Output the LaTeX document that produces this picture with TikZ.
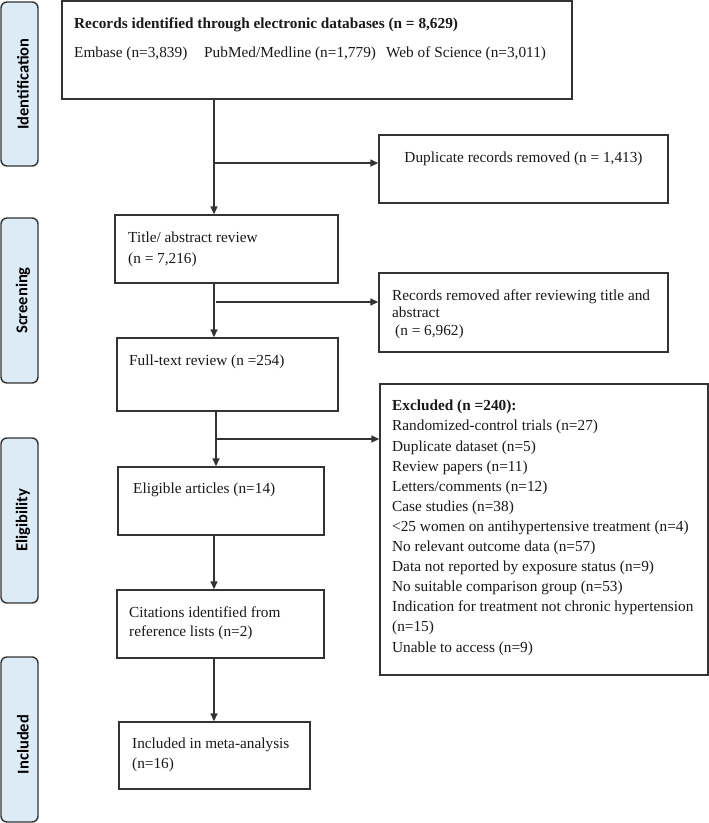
\documentclass[tikz,border=0pt]{standalone}
\usepackage{fontspec}
\setmainfont{Liberation Serif}
\newfontfamily\labfont{Carlito}
\usetikzlibrary{arrows.meta}
\definecolor{edge}{HTML}{333333}
\definecolor{labfill}{HTML}{DDEBF7}
\tikzset{
  box/.style={draw=edge, line width=1.4pt, fill=white, inner sep=0pt},
  stage/.style={draw=edge, line width=1.4pt, fill=labfill, rounded corners=6pt, inner sep=0pt},
  stagetext/.style={rotate=90, font=\labfont\bfseries\fontsize{16.5}{18}\selectfont, text=black},
  txt/.style={anchor=base west, align=left, inner sep=0pt, font=\fontsize{15.3}{20.1}\selectfont, text=black!90},
  arr/.style={draw=edge, line width=1.4pt, -{Triangle[length=8pt,width=7pt]}},
  ln/.style={draw=edge, line width=1.4pt}
}
\begin{document}
\begin{tikzpicture}[x=1pt,y=-1pt]
\useasboundingbox (0,0) rectangle (709,823);
% stage labels
\node[stage, minimum width=37pt, minimum height=164pt] (sid) at (19.5,84) {};
\node[stagetext] (sidt) at ([xshift=3.5pt]sid.center) {Identification};
\node[stage, minimum width=37pt, minimum height=165pt] (ssc) at (19.5,300.5) {};
\node[stagetext] (ssct) at ([xshift=3.5pt]ssc.center) {Screening};
\node[stage, minimum width=37pt, minimum height=165pt] (sel) at (19.5,520.5) {};
\node[stagetext] (selt) at ([xshift=3.5pt]sel.center) {Eligibility};
\node[stage, minimum width=37pt, minimum height=165pt] (sin) at (19.5,739.5) {};
\node[stagetext] (sint) at ([xshift=3.5pt,yshift=-5pt]sin.center) {Included};
% boxes
\node[box, minimum width=510pt, minimum height=98pt] (rec) at (317,50) {};
\node[box, minimum width=289pt, minimum height=68pt] (dup) at (523.5,169) {};
\node[box, minimum width=223pt, minimum height=68pt] (title) at (226.5,249) {};
\node[box, minimum width=289pt, minimum height=79pt] (rr) at (523.5,312.5) {};
\node[box, minimum width=221pt, minimum height=73pt] (full) at (227.5,374.5) {};
\node[box, minimum width=328pt, minimum height=291pt] (excl) at (544,529.5) {};
\node[box, minimum width=206pt, minimum height=68pt] (elig) at (221,501) {};
\node[box, minimum width=207pt, minimum height=68pt] (cit) at (220.5,624) {};
\node[box, minimum width=191pt, minimum height=67pt] (incl) at (214.5,755.5) {};
% texts (base anchor = last line baseline)
\node[txt] (rect1) at (74,28) {\textbf{Records identified through electronic databases (n = 8,629)}};
\node[txt] (rect2) at (74,57) {\makebox[130pt][l]{Embase (n=3,839)}\makebox[182pt][l]{PubMed/Medline (n=1,779)}Web of Science (n=3,011)};
\node[txt, anchor=base] (dupt) at (523.5,162) {Duplicate records removed (n = 1,413)};
\node[txt, font=\fontsize{15.3}{21}\selectfont] (titlet) at (128,263) {Title/ abstract review\\(n = 7,216)};
\node[txt, font=\fontsize{15.3}{17.5}\selectfont] (rrt) at (392,335) {Records removed after reviewing title and\\abstract\\\hspace*{3pt}(n = 6,962)};
\node[txt] (fullt) at (129,365) {Full-text review (n =254)};
\node[txt] (exclt) at (392,652) {\textbf{Excluded (n =240):}\\Randomized-control trials (n=27)\\Duplicate dataset (n=5)\\Review papers (n=11)\\Letters/comments (n=12)\\Case studies (n=38)\\<25 women on antihypertensive treatment (n=4)\\No relevant outcome data (n=57)\\Data not reported by exposure status (n=9)\\No suitable comparison group (n=53)\\Indication for treatment not chronic hypertension\\(n=15)\\Unable to access (n=9)};
\node[txt] (eligt) at (133,493) {Eligible articles (n=14)};
\node[txt, font=\fontsize{15.3}{19}\selectfont] (citt) at (129,636) {Citations identified from\\reference lists (n=2)};
\node[txt, font=\fontsize{15.3}{20}\selectfont] (inclt) at (132,768) {Included in meta-analysis\\(n=16)};
% connectors
\coordinate (c1) at (214,0);
\coordinate (c2) at (216,0);
\draw[arr] (c1 |- rec.south) -- (c1 |- title.north);
\coordinate (b1) at (214,163);
\draw[arr] (b1) -- (b1 -| dup.west);
\draw[arr] (c1 |- title.south) -- (c1 |- full.north);
\coordinate (b2) at (216,302);
\draw[arr] (b2) -- (b2 -| rr.west);
\draw[arr] (c2 |- full.south) -- (c2 |- elig.north);
\coordinate (b3) at (216,439);
\draw[arr] (b3) -- (b3 -| excl.west);
\draw[arr] (c1 |- elig.south) -- (c1 |- cit.north);
\draw[arr] (c1 |- cit.south) -- (c1 |- incl.north);
\end{tikzpicture}
\end{document}
